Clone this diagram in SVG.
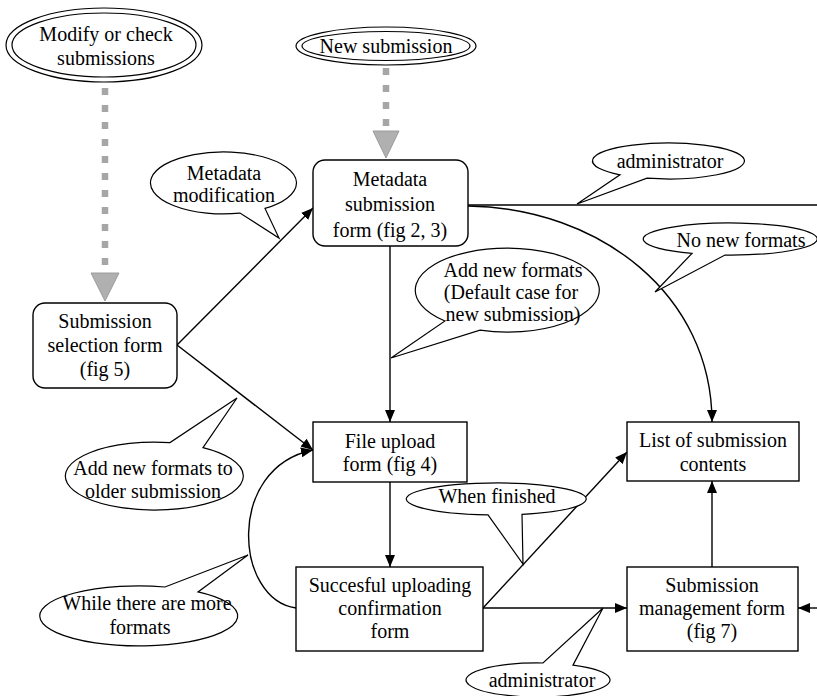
<svg xmlns="http://www.w3.org/2000/svg" width="817" height="696" viewBox="0 0 817 696">
<defs>
<style>
text{font-family:"Liberation Serif","Times New Roman",serif;font-size:20px;fill:#000;text-anchor:middle}
.box{fill:#fff;stroke:#000;stroke-width:1.4}
.call{fill:#fff;stroke:#000;stroke-width:1.2;stroke-linejoin:miter}
.conn{fill:none;stroke:#000;stroke-width:1.4}
.dash{fill:none;stroke:#a6a6a6;stroke-width:6.5;stroke-dasharray:7 10}
.dhead{fill:#b0b0b0;stroke:#9c9c9c;stroke-width:1}
</style>
<marker id="ah" viewBox="0 0 12 10" refX="12" refY="5" markerWidth="12" markerHeight="10" markerUnits="userSpaceOnUse" orient="auto">
<path d="M0,0 L12,5 L0,10 Z" fill="#000"/>
</marker>
</defs>
<rect width="817" height="696" fill="#fff"/>

<g id="connectors">
<line class="dash" x1="105" y1="88" x2="105" y2="270"/>
<polygon class="dhead" points="91,273 119,273 105,301"/>
<line class="dash" x1="386" y1="68" x2="386" y2="128"/>
<polygon class="dhead" points="373,131 399,131 386,158"/>
<line class="conn" x1="177" y1="345" x2="313" y2="208" marker-end="url(#ah)"/>
<line class="conn" x1="177" y1="345" x2="313" y2="450" marker-end="url(#ah)"/>
<line class="conn" x1="390" y1="246" x2="390" y2="422" marker-end="url(#ah)"/>
<line class="conn" x1="468" y1="205" x2="817" y2="205" style="stroke-width:1.6"/>
<path class="conn" d="M468,206 C600,208 712,295 712,422" marker-end="url(#ah)"/>
<line class="conn" x1="390" y1="482" x2="390" y2="567" marker-end="url(#ah)"/>
<line class="conn" x1="483" y1="608" x2="627" y2="452" marker-end="url(#ah)"/>
<line class="conn" x1="483" y1="608" x2="627" y2="608" marker-end="url(#ah)"/>
<line class="conn" x1="712" y1="567" x2="712" y2="481" marker-end="url(#ah)"/>
<line class="conn" x1="817" y1="608" x2="798" y2="608" marker-end="url(#ah)"/>
<path class="conn" d="M296,608 C235,600 225,468 313,450" marker-end="url(#ah)"/>
</g>

<g id="modify">
<ellipse cx="104" cy="45" rx="98" ry="37" fill="#fff" stroke="#000" stroke-width="1.2"/>
<ellipse cx="104" cy="45" rx="92" ry="32" fill="none" stroke="#000" stroke-width="1.2"/>
<text x="106" y="41">Modify or check</text>
<text x="106" y="65">submissions</text>
</g>

<g id="newsub">
<ellipse cx="386" cy="46" rx="90" ry="19" fill="#fff" stroke="#000" stroke-width="1.2"/>
<ellipse cx="386" cy="46" rx="84" ry="14.5" fill="none" stroke="#000" stroke-width="1.2"/>
<text x="386" y="53">New submission</text>
</g>

<g id="metadata">
<rect class="box" x="313" y="160" width="155" height="86" rx="12"/>
<text x="390" y="186">Metadata</text>
<text x="390" y="211">submission</text>
<text x="390" y="237">form (fig 2, 3)</text>
</g>

<g id="selection">
<rect class="box" x="33" y="303" width="144" height="85" rx="12"/>
<text x="105" y="328">Submission</text>
<text x="105" y="352">selection form</text>
<text x="105" y="376">(fig 5)</text>
</g>

<g id="upload">
<rect class="box" x="313" y="422" width="154" height="60"/>
<text x="390" y="448">File upload</text>
<text x="390" y="471">form (fig 4)</text>
</g>

<g id="list">
<rect class="box" x="627" y="422" width="172" height="59"/>
<text x="713" y="447">List of submission</text>
<text x="713" y="471">contents</text>
</g>

<g id="success">
<rect class="box" x="296" y="567" width="187" height="84"/>
<text x="390" y="592">Succesful uploading</text>
<text x="390" y="615">confirmation</text>
<text x="390" y="638">form</text>
</g>

<g id="management">
<rect class="box" x="627" y="567" width="171" height="84"/>
<text x="712" y="592">Submission</text>
<text x="712" y="615">management form</text>
<text x="712" y="638">(fig 7)</text>
</g>

<g id="callout-metadata-mod">
<path class="call" d="M240,213.1 A73,31 0 1 1 265,208.4 L279,238 Z"/>
<text x="224" y="180">Metadata</text>
<text x="224" y="202">modification</text>
</g>

<g id="callout-admin-top">
<path class="call" d="M620,174.8 A76,18 0 1 1 647,178.2 L577,204 Z"/>
<text x="670" y="168">administrator</text>
</g>

<g id="callout-nonew">
<path class="call" d="M692,253.4 A87,16 0 1 1 725,255 L655,292 Z"/>
<text x="741" y="247">No new formats</text>
</g>

<g id="callout-addnew">
<path class="call" d="M445,321 A92,42 0 1 1 480,330.2 L391,358 Z"/>
<text x="513" y="277">Add new formats</text>
<text x="511" y="299">(Default case for</text>
<text x="513" y="321">new submission)</text>
</g>

<g id="callout-older">
<path class="call" d="M203,447.6 A89,34 0 1 1 170,442.6 L237,398 Z"/>
<text x="153" y="475">Add new formats to</text>
<text x="153" y="498">older submission</text>
</g>

<g id="callout-finished">
<path class="call" d="M488,514.9 A90,16 0 1 1 522,514.3 L523,564 Z"/>
<text x="497" y="503">When finished</text>
</g>

<g id="callout-more">
<path class="call" d="M198,591.9 A99,30 0 1 1 165,587 L248,555 Z"/>
<text x="147" y="610">While there are more</text>
<text x="140" y="634">formats</text>
</g>

<g id="callout-admin-bottom">
<path class="call" d="M573,665.1 A72,17 0 1 1 543,663 L603,608 Z"/>
<text x="542" y="687">administrator</text>
</g>
</svg>
